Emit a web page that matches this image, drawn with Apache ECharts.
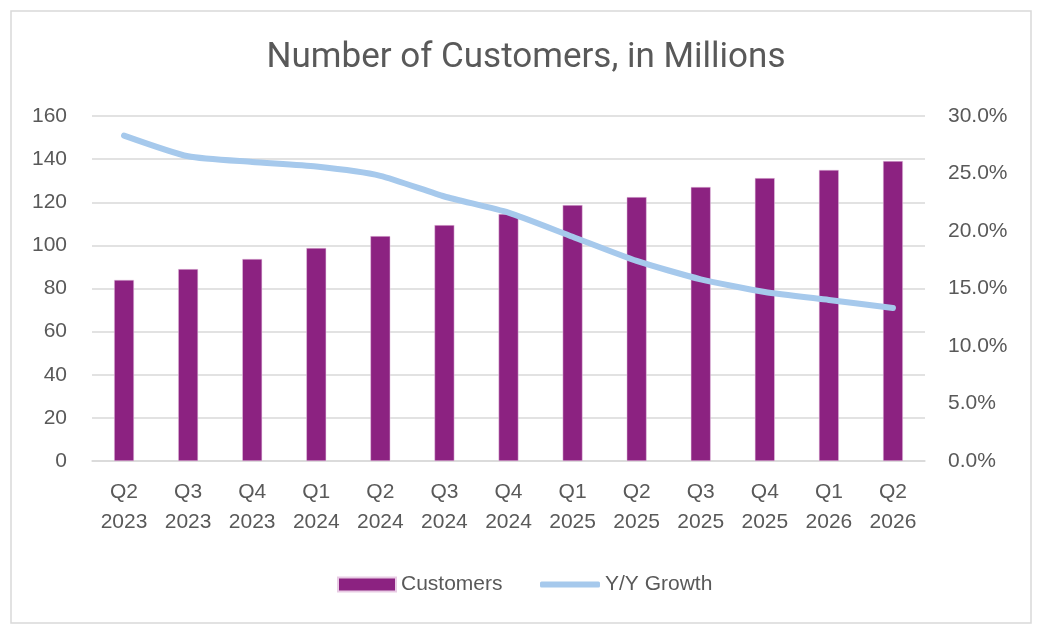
<!DOCTYPE html>
<html>
<head>
<meta charset="utf-8">
<script src="https://cdn.jsdelivr.net/npm/echarts@6/dist/echarts.min.js"></script>
<style>
  html, body { margin: 0; padding: 0; background: #fff; }
  #chart { width: 1052px; height: 638px; }
</style>
</head>
<body>
<div id="chart"></div>
<script>
// quarters on the x axis
const quarters = [
  "Q2\n2023", "Q3\n2023", "Q4\n2023", "Q1\n2024", "Q2\n2024", "Q3\n2024", "Q4\n2024",
  "Q1\n2025", "Q2\n2025", "Q3\n2025", "Q4\n2025", "Q1\n2026", "Q2\n2026"
];
// customers, millions
const customers = [84, 89, 93.7, 98.8, 104.3, 109.4, 114.6, 118.7, 122.4, 127.1, 131.2, 135, 139.1];
// year over year growth, percent
const yoyGrowth = [28.3, 26.5, 26.0, 25.6, 24.8, 23.0, 21.6, 19.5, 17.4, 15.8, 14.7, 14.0, 13.3];

const textColor = "#595959";
const fontFamily = "'Liberation Sans', Arial, sans-serif";

var chartDom = document.getElementById("chart");
var myChart = echarts.init(chartDom);

const legendText = { fontSize: 21, color: textColor, fontFamily: fontFamily };

let option = {
  animation: false,
  textStyle: { fontFamily: fontFamily },
  title: {
    text: "Number of Customers, in Millions",
    left: "center",
    top: 36,
    textStyle: { fontSize: 35, fontWeight: "normal", color: textColor, fontFamily: "Roboto, sans-serif" },
  },
  graphic: [
    {
      type: "rect",
      shape: { x: 11, y: 11, width: 1020, height: 612 },
      style: { fill: "none", stroke: "#d9d9d9", lineWidth: 1.5 },
      silent: true,
    },
  ],
  legend: [
    {
      left: 332,
      top: 569,
      itemWidth: 58,
      itemHeight: 14,
      textStyle: legendText,
      data: [{ name: "Customers", icon: "rect" }],
    },
    {
      left: 535,
      top: 569,
      itemWidth: 60,
      itemHeight: 6,
      textStyle: legendText,
      data: [{ name: "Y/Y Growth", icon: "roundRect" }],
    },
  ],
  grid: { left: 92, right: 127, top: 116, bottom: 177 },
  xAxis: {
    type: "category",
    data: quarters,
    axisLine: { lineStyle: { color: "#d9d9d9", width: 1.5 } },
    axisTick: { show: false },
    axisLabel: { fontSize: 21, color: textColor, lineHeight: 30, margin: 16 },
  },
  yAxis: [
    {
      type: "value",
      min: 0,
      max: 160,
      interval: 20,
      axisLine: { show: false },
      axisTick: { show: false },
      splitLine: { lineStyle: { color: "#d9d9d9", width: 1.5 } },
      axisLabel: { fontSize: 21, color: textColor, margin: 25 },
    },
    {
      type: "value",
      min: 0,
      max: 30,
      interval: 5,
      axisLine: { show: false },
      axisTick: { show: false },
      splitLine: { show: false },
      axisLabel: {
        fontSize: 21,
        color: textColor,
        margin: 23,
        formatter: (v) => v.toFixed(1) + "%",
      },
    },
  ],
  series: [
    {
      name: "Customers",
      type: "bar",
      data: customers,
      barWidth: "31%",
      itemStyle: { color: "#8c2281", borderColor: "#e8cbe4", borderWidth: 0.5 },
    },
    {
      name: "Y/Y Growth",
      type: "line",
      yAxisIndex: 1,
      data: yoyGrowth,
      symbol: "none",
      smooth: 0.2,
      lineStyle: { color: "#a6c9ec", width: 6, cap: "round", join: "round" },
      itemStyle: { color: "#a6c9ec" },
    },
  ],
};

option && myChart.setOption(option);
</script>
</body>
</html>
